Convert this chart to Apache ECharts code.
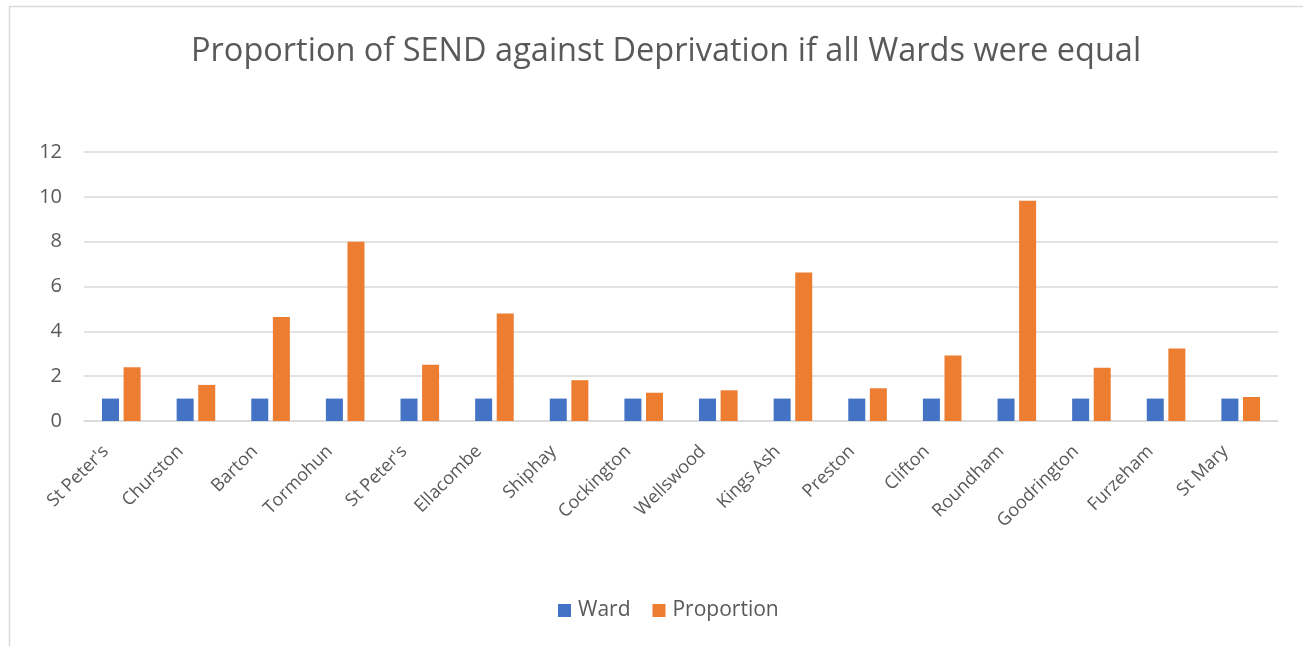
<!DOCTYPE html>
<html>
<head>
<meta charset="utf-8">
<title>Proportion of SEND against Deprivation</title>
<script src="https://cdn.jsdelivr.net/npm/echarts@6/dist/echarts.min.js"></script>
<style>
  html, body { margin: 0; padding: 0; background: #fff; }
  #main { width: 1303px; height: 646px; }
</style>
</head>
<body>
<div id="main"></div>
<script>
var wards = ["St Peter's", 'Churston', 'Barton', 'Tormohun', "St Peter's", 'Ellacombe', 'Shiphay',
    'Cockington', 'Wellswood', 'Kings Ash', 'Preston', 'Clifton', 'Roundham', 'Goodrington',
    'Furzeham', 'St Mary'];
var wardValues = [1, 1, 1, 1, 1, 1, 1, 1, 1, 1, 1, 1, 1, 1, 1, 1];
var proportionValues = [2.40, 1.61, 4.64, 8.0, 2.51, 4.79, 1.82, 1.26, 1.37, 6.62, 1.46, 2.92, 9.82, 2.37, 3.23, 1.07];
var yTicks = [0, 2, 4, 6, 8, 10, 12];

var textColor = '#595959';
var fontName = '"Open Sans", "Noto Sans", sans-serif';

var myChart = echarts.init(document.getElementById('main'));

var option = {
    backgroundColor: '#fff',
    animation: false,
    textStyle: { fontFamily: fontName },
    graphic: [{
        type: 'rect',
        shape: { x: 9.5, y: 6.5, width: 1400, height: 700 },
        style: { fill: 'none', stroke: '#d9d9d9', lineWidth: 1.5 },
        silent: true
    }],
    title: {
        text: 'Proportion of SEND against Deprivation if all Wards were equal',
        left: 186,
        top: 30,
        textStyle: { fontFamily: fontName, fontSize: 32.5, fontWeight: 'normal', color: textColor }
    },
    legend: {
        data: ['Ward', 'Proportion'],
        bottom: 20,
        left: 553,
        itemWidth: 13,
        itemHeight: 13,
        itemGap: 22,
        icon: 'rect',
        textStyle: { fontFamily: fontName, fontSize: 21, color: textColor, padding: [0, 0, 0, 2] }
    },
    grid: {
        left: 84,
        right: 25,
        top: 152,
        bottom: 225,
        containLabel: false
    },
    xAxis: {
        type: 'category',
        data: wards,
        axisLine: { show: true, lineStyle: { color: '#d9d9d9', width: 1.5 } },
        axisTick: { show: false },
        axisLabel: {
            rotate: 45,
            interval: 0,
            margin: 12,
            padding: [0, 22, 0, 0],
            fontFamily: fontName,
            fontSize: 18,
            color: textColor
        }
    },
    yAxis: {
        type: 'value',
        min: yTicks[0],
        max: yTicks[yTicks.length - 1],
        interval: 2,
        axisLine: { show: false },
        axisTick: { show: false },
        splitLine: { lineStyle: { color: '#d9d9d9', width: 1.5 } },
        axisLabel: {
            margin: 22,
            fontFamily: fontName,
            fontSize: 20,
            color: textColor
        }
    },
    series: [{
        name: 'Ward',
        type: 'bar',
        data: wardValues,
        barWidth: 17,
        barGap: '27%',
        itemStyle: { color: '#4472c4' }
    }, {
        name: 'Proportion',
        type: 'bar',
        data: proportionValues,
        barWidth: 17,
        barGap: '27%',
        itemStyle: { color: '#ed7d31' }
    }]
};

myChart.setOption(option);
</script>
</body>
</html>
